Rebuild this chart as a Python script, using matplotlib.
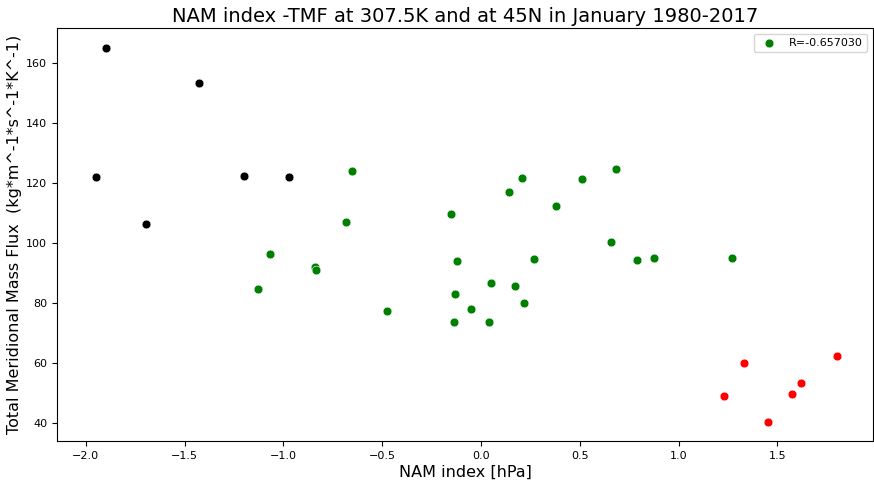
import matplotlib
matplotlib.use("Agg")
import matplotlib.pyplot as plt
import numpy as np

# Negative NAM years (black)
x_black = [-1.948, -1.898, -1.695, -1.427, -1.201, -0.970]
y_black = [122.1, 165.0, 106.2, 153.4, 122.4, 122.1]

# Neutral years (green)
x_green = [-0.654, -0.682, -1.068, -1.127, -0.842, -0.837, -0.476, -0.152,
           -0.121, -0.133, -0.137, -0.052, 0.051, 0.039, 0.140, 0.207,
           0.172, 0.218, 0.268, 0.378, 0.509, 0.682, 0.658, 0.789, 0.877, 1.272]
y_green = [124.0, 107.1, 96.3, 84.6, 92.0, 90.9, 77.3, 109.7,
           94.0, 83.0, 73.8, 78.1, 86.6, 73.8, 117.1, 121.7,
           85.6, 79.9, 94.6, 112.4, 121.4, 124.6, 100.4, 94.2, 95.0, 95.0]

# Positive NAM years (red)
x_red = [1.230, 1.331, 1.452, 1.574, 1.621, 1.800]
y_red = [49.1, 59.9, 40.4, 49.7, 53.4, 62.2]

legend_label = "R=-0.657030"
title = "NAM index -TMF at 307.5K and at 45N in January 1980-2017"
xlabel = "NAM index [hPa]"
ylabel = "Total Meridional Mass Flux  (kg*m^-1*s^-1*K^-1)"

fig = plt.figure(figsize=(8.74, 4.82), dpi=100)
ax = fig.add_axes([0.0652, 0.0851, 0.9337, 0.8568])

kw = dict(s=40, edgecolors="white", linewidths=0.4)
ax.scatter(x_black, y_black, color="black", **kw)
ax.scatter(x_green, y_green, color="green", label=legend_label, **kw)
ax.scatter(x_red, y_red, color="red", **kw)

ax.set_xlim(-2.146, 1.984)
ax.set_ylim(34.0, 171.7)
ax.set_xticks([-2.0, -1.5, -1.0, -0.5, 0.0, 0.5, 1.0, 1.5])
ax.set_yticks([40, 60, 80, 100, 120, 140, 160])
ax.tick_params(labelsize=8)

ax.set_title(title, fontsize=14, pad=4)
ax.set_xlabel(xlabel, fontsize=11.5, labelpad=3)
ax.set_ylabel(ylabel, fontsize=11.5, labelpad=3)
ax.legend(loc="upper right", fontsize=8)

fig.savefig("out.png", dpi=100)
